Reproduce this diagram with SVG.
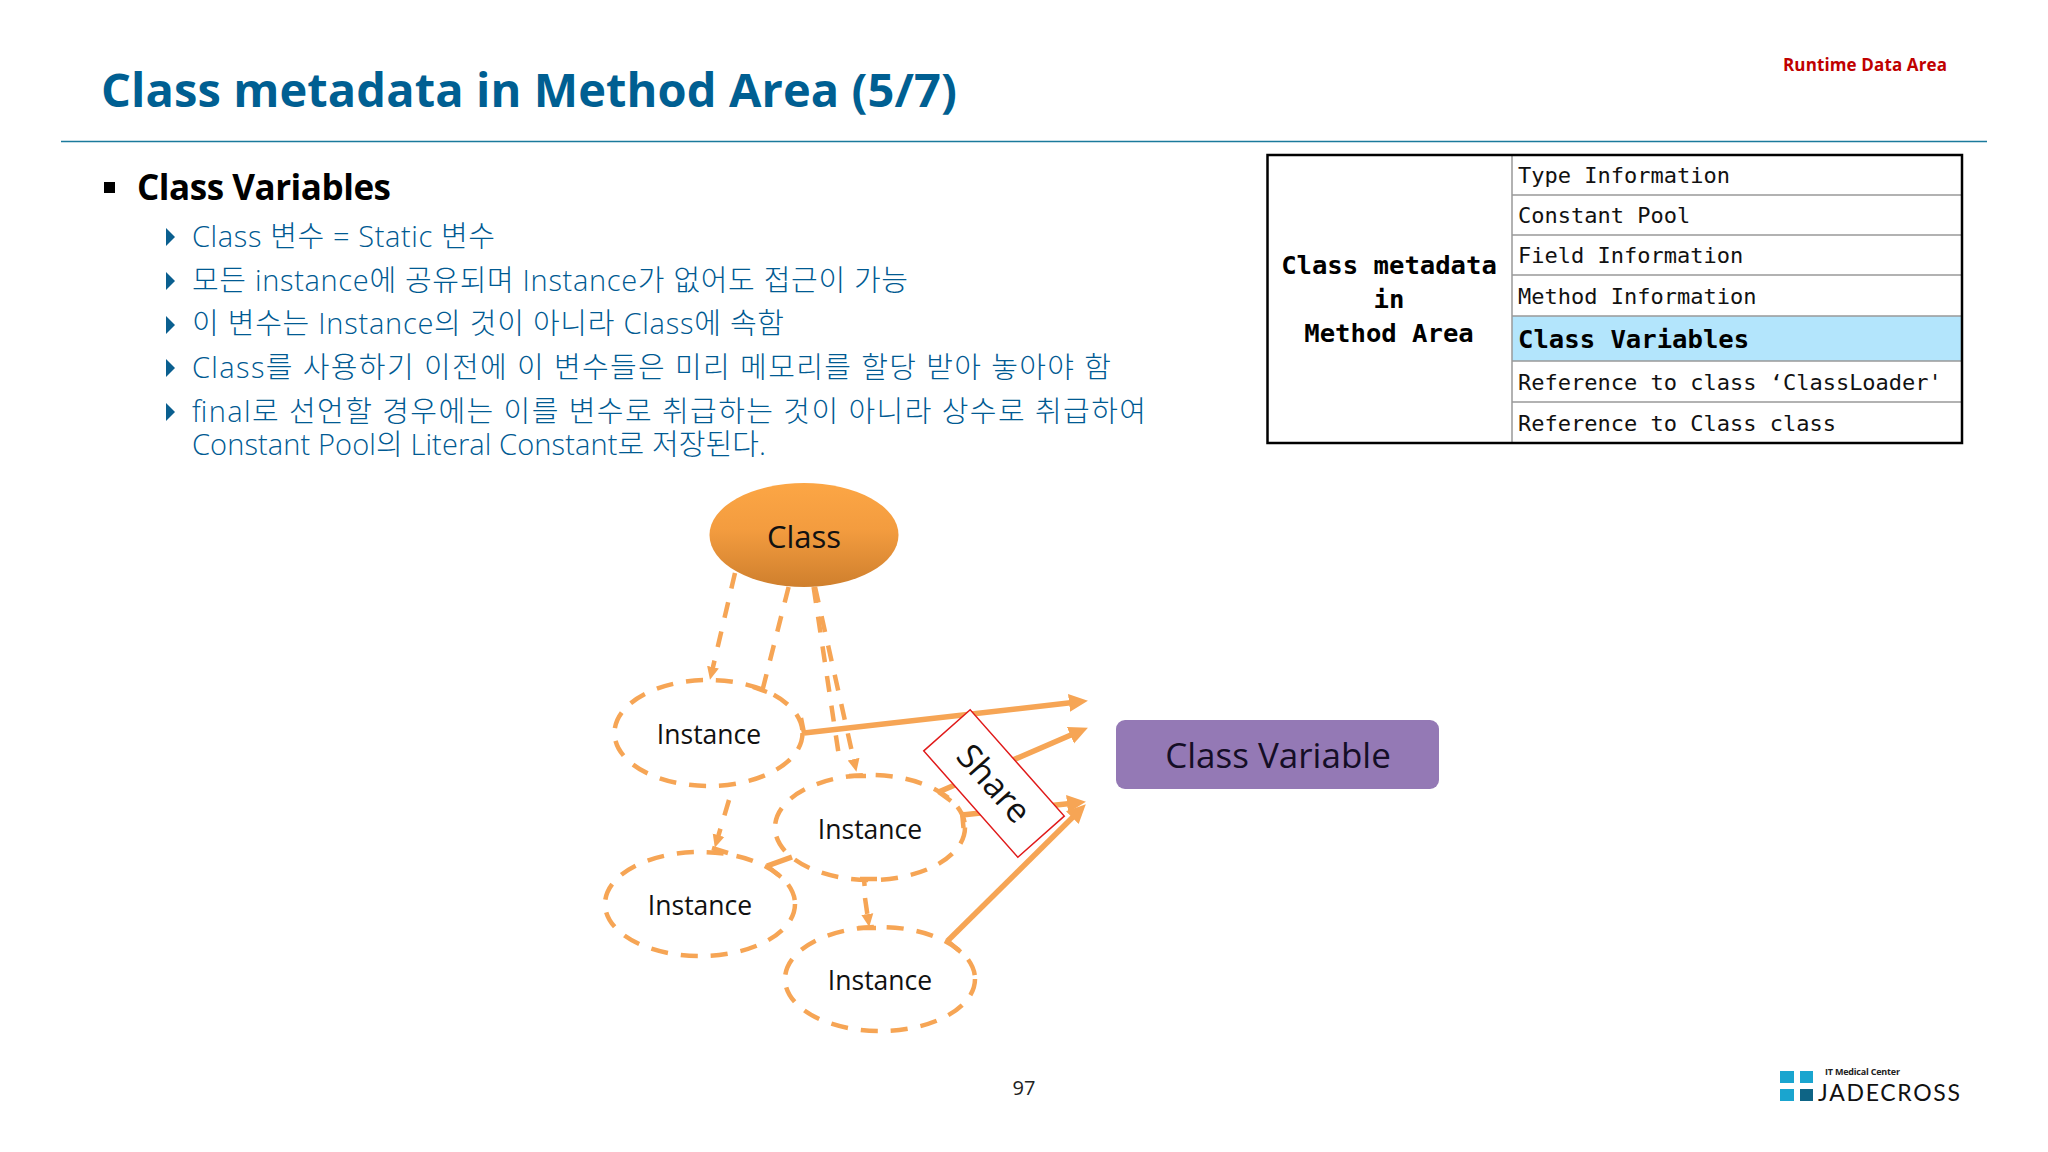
<svg xmlns="http://www.w3.org/2000/svg" width="2048" height="1152" viewBox="0 0 2048 1152">
<style>
text{font-family:"Open Sans","Noto Sans CJK KR",sans-serif}
.sub{font-size:29px;fill:#005a92;font-weight:300}
.mono{font-family:"DejaVu Sans Mono","Liberation Mono",monospace;font-size:22px;fill:#111}
.monob{font-family:"DejaVu Sans Mono","Liberation Mono",monospace;font-size:25.6px;font-weight:700;fill:#000}
.row{stroke:#999;stroke-width:1.5;fill:none}
.inst{fill:none;stroke:#f6a555;stroke-width:4.5;stroke-dasharray:17 13}
.lbl{font-size:26.5px;fill:#111;text-anchor:middle}
.tri{fill:#0a5f8f}
.dash{fill:none;stroke:#f6a555;stroke-width:4.5;stroke-dasharray:16 14}
.solid{fill:none;stroke:#f6a555;stroke-width:5.5}
.tick{fill:none;stroke:#f6a555;stroke-width:4.5}
.sq{fill:#1aa5cf}
</style>
<defs>
<linearGradient id="g" x1="0" y1="0" x2="0" y2="1"><stop offset="0" stop-color="#fca645"/><stop offset="0.45" stop-color="#f39c3f"/><stop offset="1" stop-color="#cf7f2d"/></linearGradient>
<marker id="big" markerUnits="userSpaceOnUse" markerWidth="20" markerHeight="20" refX="8" refY="10" orient="auto"><path d="M0 1L19 10L0 19Z" fill="#f6a555"/></marker>
<marker id="small" markerUnits="userSpaceOnUse" markerWidth="14" markerHeight="14" refX="6" refY="7" orient="auto"><path d="M0 1L13 7L0 13Z" fill="#f6a555"/></marker>
</defs>
<rect width="2048" height="1152" fill="#fff"/>
<text x="101" y="107" font-size="47" font-weight="700" fill="#005f92" textLength="856">Class metadata in Method Area (5/7)</text>
<text x="1783" y="71" font-size="17" font-weight="700" fill="#c00000" textLength="164">Runtime Data Area</text>
<line x1="61" y1="141.5" x2="1987" y2="141.5" stroke="#1b7a9c" stroke-width="1.6"/>
<g id="bullets">
<rect x="104" y="182" width="11" height="11" fill="#000"/>
<text x="137" y="200" font-size="35" font-weight="700" fill="#000" textLength="254">Class Variables</text>
<path class="tri" d="M166 228L175 237L166 246Z"/>
<text class="sub" x="192" y="247" textLength="303">Class 변수 = Static 변수</text>
<path class="tri" d="M166 272L175 281L166 290Z"/>
<text class="sub" x="192" y="291" textLength="716">모든 instance에 공유되며 Instance가 없어도 접근이 가능</text>
<path class="tri" d="M166 316L175 325L166 334Z"/>
<text class="sub" x="192" y="334" textLength="592">이 변수는 Instance의 것이 아니라 Class에 속함</text>
<path class="tri" d="M166 359L175 368L166 377Z"/>
<text class="sub" x="192" y="378" textLength="919">Class를 사용하기 이전에 이 변수들은 미리 메모리를 할당 받아 놓아야 함</text>
<path class="tri" d="M166 403L175 412L166 421Z"/>
<text class="sub" x="192" y="422" textLength="954">final로 선언할 경우에는 이를 변수로 취급하는 것이 아니라 상수로 취급하여</text>
<text class="sub" x="192" y="455" textLength="574">Constant Pool의 Literal Constant로 저장된다.</text>
</g>
<g id="table">
<rect x="1512" y="316" width="450" height="45" fill="#b3e5fc"/>
<path class="row" d="M1512 155V443M1512 195H1962M1512 235H1962M1512 275H1962M1512 316H1962M1512 361H1962M1512 402H1962"/>
<rect x="1267.5" y="155" width="694.5" height="288" fill="none" stroke="#000" stroke-width="2.5"/>
<text class="monob" x="1389" y="274" text-anchor="middle">Class metadata</text>
<text class="monob" x="1389" y="308" text-anchor="middle">in</text>
<text class="monob" x="1389" y="342" text-anchor="middle">Method Area</text>
<text class="mono" x="1518" y="183">Type Information</text>
<text class="mono" x="1518" y="223">Constant Pool</text>
<text class="mono" x="1518" y="263">Field Information</text>
<text class="mono" x="1518" y="304">Method Information</text>
<text class="monob" x="1518" y="348">Class Variables</text>
<text class="mono" x="1518" y="390">Reference to class ‘ClassLoader'</text>
<text class="mono" x="1518" y="431">Reference to Class class</text>
</g>
<g id="connectors">
<line class="dash" x1="735" y1="573" x2="711.6" y2="673" marker-end="url(#small)"/>
<line class="dash" x1="788.6" y1="587" x2="762" y2="692"/>
<line class="dash" x1="813.6" y1="587" x2="840" y2="763"/>
<line class="dash" x1="815" y1="587" x2="854.9" y2="765" marker-end="url(#small)"/>
<line class="dash" x1="729" y1="800" x2="716.8" y2="841" marker-end="url(#small)"/>
<line class="dash" x1="865" y1="898" x2="868.2" y2="920" marker-end="url(#small)"/>
<line class="solid" x1="792" y1="857" x2="767" y2="866"/>
<line class="solid" x1="804" y1="733" x2="1077" y2="702" marker-end="url(#big)"/>
<line class="solid" x1="938.6" y1="792" x2="1077.8" y2="732" marker-end="url(#big)"/>
<line class="solid" x1="962" y1="815" x2="1075" y2="803" marker-end="url(#big)"/>
<line class="solid" x1="947.5" y1="941" x2="1078" y2="812" marker-end="url(#big)"/>
<path class="tick" d="M801 718L804 733M938.6 792L951 801M962 812L963.5 828M947.5 941L960.7 952M767 866L781 877M753 687L767 692M712 848L728 853M858 928L876 928M849 776L866 776M860 879L877 879M864 879L864.6 886"/>
</g>
<g id="class"><ellipse cx="804" cy="535" rx="94.5" ry="52" fill="url(#g)"/><text x="804" y="548" font-size="31" fill="#111" text-anchor="middle">Class</text></g>
<g id="instance1"><ellipse class="inst" cx="708.5" cy="733" rx="94" ry="53"/><text class="lbl" x="709" y="744">Instance</text></g>
<g id="instance2"><ellipse class="inst" cx="870" cy="827.5" rx="95" ry="52.5"/><text class="lbl" x="870" y="839">Instance</text></g>
<g id="instance3"><ellipse class="inst" cx="700" cy="904" rx="95" ry="52"/><text class="lbl" x="700" y="915">Instance</text></g>
<g id="instance4"><ellipse class="inst" cx="880" cy="979" rx="95" ry="52"/><text class="lbl" x="880" y="990">Instance</text></g>
<g id="share" transform="translate(994 783.5) rotate(48.5)"><rect x="-71" y="-31" width="142" height="62" fill="#fff" stroke="#e01a1a" stroke-width="1.5"/><text x="0" y="12" font-size="34" fill="#111" text-anchor="middle">Share</text></g>
<g id="classVariable"><rect x="1116" y="720" width="323" height="69" rx="9" fill="#9479b5"/><text x="1278" y="768" font-size="35" fill="#150e26" text-anchor="middle">Class Variable</text></g>
<text x="1024" y="1095" font-size="20" fill="#222" text-anchor="middle">97</text>
<g id="logo">
<rect class="sq" x="1780" y="1071" width="14" height="12"/><rect class="sq" x="1800" y="1071" width="13" height="12"/><rect class="sq" x="1780" y="1089" width="14" height="12"/><rect x="1800" y="1089" width="13" height="12" fill="#0e6485"/>
<text x="1825" y="1075" font-size="9" font-weight="700" fill="#222" textLength="75">IT Medical Center</text>
<text x="1818" y="1101" font-size="23" fill="#111" textLength="142" style="font-family:Lato,'Liberation Sans',sans-serif">JADECROSS</text>
</g>
</svg>
